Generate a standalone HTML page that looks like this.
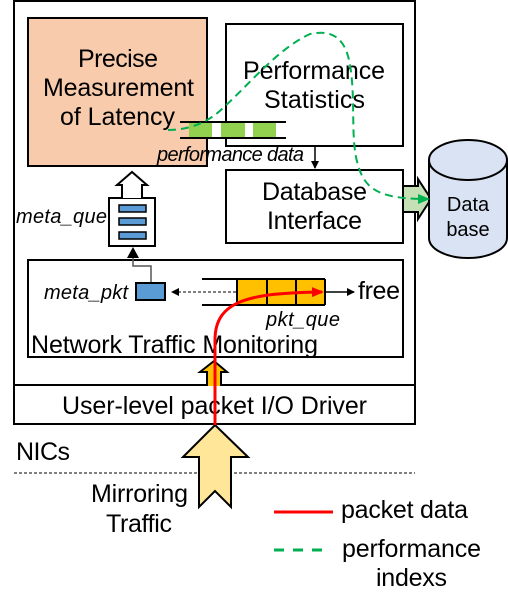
<!DOCTYPE html><html><head><style>body{margin:0;background:#fff}svg text{font-family:"Liberation Sans",sans-serif}</style></head><body>
<svg width="508" height="609" viewBox="0 0 508 609" xmlns="http://www.w3.org/2000/svg">
<defs>
<marker id="ab" markerWidth="8" markerHeight="8" refX="7" refY="4" orient="auto" markerUnits="userSpaceOnUse"><path d="M0,0 L8,4 L0,8z" fill="#000"/></marker>
<marker id="ar" markerWidth="12" markerHeight="10" refX="10" refY="5" orient="auto" markerUnits="userSpaceOnUse"><path d="M0,0 L12,5 L0,10z" fill="#f00"/></marker>
<marker id="ag" markerWidth="12" markerHeight="10" refX="10" refY="5" orient="auto" markerUnits="userSpaceOnUse"><path d="M0,0 L12,5 L0,10z" fill="#00b050"/></marker>
</defs>
<g stroke="#000" stroke-width="2" fill="none">
<rect x="14" y="1" width="401" height="423"/>
<line x1="14" y1="385" x2="415" y2="385"/>
<rect x="28" y="18" width="179" height="148" fill="#f8cbad"/>
<rect x="226" y="24" width="177" height="122" fill="#fff"/>
<rect x="226" y="170" width="177" height="73" fill="#fff"/>
<rect x="28" y="260" width="375" height="97"/>
</g>
<g font-size="25">
<text x="118" y="67" text-anchor="middle" textLength="80">Precise</text>
<text x="43" y="96" textLength="151">Measurement</text>
<text x="60" y="125" textLength="115">of Latency</text>
<text x="243" y="79" textLength="142">Performance</text>
<text x="264" y="108" textLength="101">Statistics</text>
<text x="262" y="200" textLength="105">Database</text>
<text x="267" y="229" textLength="95">Interface</text>
<text x="358" y="299" textLength="42">free</text>
<text x="31" y="353" textLength="287">Network Traffic Monitoring</text>
<text x="62" y="414" textLength="305">User-level packet I/O Driver</text>
<text x="16" y="460" textLength="54">NICs</text>
<text x="91" y="502" textLength="97">Mirroring</text>
<text x="106" y="532" textLength="66">Traffic</text>
<text x="341" y="518" textLength="127">packet data</text>
<text x="342" y="557" textLength="139">performance</text>
<text x="376" y="586" textLength="71">indexs</text>
</g>
<g fill="#92d050"><rect x="189" y="123" width="23" height="14"/><rect x="221" y="123" width="24" height="14"/><rect x="253" y="123" width="23" height="14"/></g>
<g stroke="#000" stroke-width="2"><line x1="180" y1="122" x2="286" y2="122"/><line x1="180" y1="138" x2="286" y2="138"/></g>
<g font-size="20" font-style="italic">
<text x="157" y="161" textLength="147">performance data</text>
<text x="16" y="223" textLength="91">meta_que</text>
<text x="44" y="299" textLength="84">meta_pkt</text>
<text x="266" y="326" textLength="74">pkt_que</text>
</g>
<line x1="315" y1="146" x2="315" y2="168" stroke="#000" stroke-width="1.5" marker-end="url(#ab)"/>
<path d="M109,198 H155 V246 H109 Z" fill="#fff" stroke="#000" stroke-width="2"/>
<path d="M122,198 V185 H117 L132,172 L147,185 H142 V198" fill="#fff" stroke="#000" stroke-width="2"/>
<g fill="#5b9bd5" stroke="#000" stroke-width="1.5"><rect x="119" y="205" width="27" height="7"/><rect x="119" y="218" width="27" height="7"/><rect x="119" y="232" width="27" height="7"/></g>
<path d="M151,283 V266 H133 V256" fill="none" stroke="#555" stroke-width="1.5"/>
<path d="M127,258 L133,247 L139,258z" fill="#000"/>
<rect x="136" y="283" width="29" height="17" fill="#5b9bd5" stroke="#000" stroke-width="2"/>
<line x1="236" y1="292" x2="172" y2="292" stroke="#000" stroke-width="1" stroke-dasharray="3,2" marker-end="url(#ab)"/>
<rect x="237" y="279" width="88" height="26" fill="#ffc000"/>
<g stroke="#000" stroke-width="2"><line x1="202" y1="279" x2="325" y2="279"/><line x1="202" y1="305" x2="325" y2="305"/><line x1="237" y1="279" x2="237" y2="305"/><line x1="267" y1="279" x2="267" y2="305"/><line x1="296" y1="279" x2="296" y2="305"/><line x1="325" y1="279" x2="325" y2="305"/></g>
<line x1="325" y1="292" x2="354" y2="292" stroke="#000" stroke-width="1.5" marker-end="url(#ab)"/>
<path d="M207,386 V372 H200 L214,361 L227,372 H221 V386" fill="#ffc000" stroke="#000" stroke-width="2"/>
<line x1="14" y1="473" x2="415" y2="473" stroke="#000" stroke-width="1" stroke-dasharray="3,2"/>
<path d="M215,425 L248,457 H231 V507 L215,491 L199,507 V457 H183 Z" fill="#ffe699" stroke="#000" stroke-width="2"/>
<path d="M215,425 V340 C215,300 250,293 322,292" fill="none" stroke="#f00" stroke-width="3" marker-end="url(#ar)"/>
<path d="M403,186 H418 V179 L431,199 L418,219 V212 H403 Z" fill="#c5e0b4" stroke="#000" stroke-width="2"/>
<path d="M429,160 V238 A39,20 0 0 0 507,238 V160" fill="#dae3f3" stroke="#000" stroke-width="2"/>
<ellipse cx="468" cy="160" rx="39" ry="20" fill="#dae3f3" stroke="#000" stroke-width="2"/>
<text font-size="20" text-anchor="middle"><tspan x="468" y="211">Data</tspan><tspan x="468" y="236">base</tspan></text>
<path d="M168,130 C190,130 205,122 215,115 C245,90 275,50 310,34 C330,30 345,35 350,65 C356,100 350,140 358,165 C365,190 380,199 428,199" fill="none" stroke="#00b050" stroke-width="2" stroke-dasharray="8,5" marker-end="url(#ag)"/>
<line x1="274" y1="512" x2="333" y2="512" stroke="#f00" stroke-width="3"/>
<line x1="274" y1="550" x2="330" y2="550" stroke="#00b050" stroke-width="3" stroke-dasharray="10,9"/>
</svg></body></html>
